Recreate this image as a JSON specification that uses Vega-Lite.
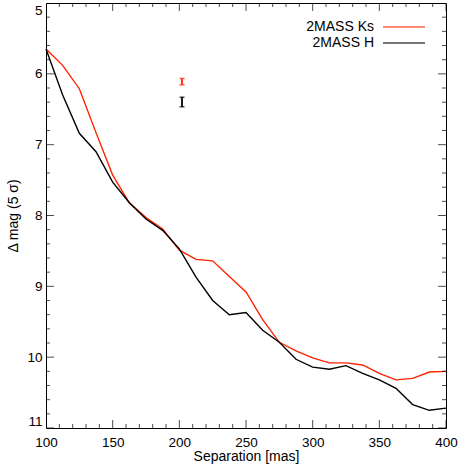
{
  "$schema": "https://vega.github.io/schema/vega-lite/v6.json",
  "width": 400,
  "height": 425,
  "autosize": {"type": "none"},
  "padding": {"left": 46, "top": 3, "right": 12, "bottom": 39},
  "background": "white",
  "config": {
    "view": {"stroke": "black", "strokeWidth": 1},
    "font": "Liberation Sans",
    "axis": {
      "domain": false,
      "ticks": false,
      "grid": false,
      "labelFont": "Liberation Sans",
      "titleFont": "Liberation Sans",
      "labelFontSize": 13.5,
      "titleFontSize": 14,
      "titleFontWeight": "normal",
      "labelColor": "black",
      "titleColor": "black"
    },
    "legend": {
      "labelFont": "Liberation Sans",
      "labelFontSize": 14,
      "labelColor": "black",
      "padding": 0
    }
  },
  "datasets": {
    "curves": [
      {"series": "2MASS Ks", "sep": 100, "mag": 5.65},
      {"series": "2MASS Ks", "sep": 112.5, "mag": 5.88},
      {"series": "2MASS Ks", "sep": 125, "mag": 6.21},
      {"series": "2MASS Ks", "sep": 137.5, "mag": 6.83},
      {"series": "2MASS Ks", "sep": 150, "mag": 7.43},
      {"series": "2MASS Ks", "sep": 162.5, "mag": 7.82},
      {"series": "2MASS Ks", "sep": 175, "mag": 8.03},
      {"series": "2MASS Ks", "sep": 187.5, "mag": 8.19},
      {"series": "2MASS Ks", "sep": 200, "mag": 8.49},
      {"series": "2MASS Ks", "sep": 212.5, "mag": 8.62},
      {"series": "2MASS Ks", "sep": 225, "mag": 8.64},
      {"series": "2MASS Ks", "sep": 237.5, "mag": 8.86},
      {"series": "2MASS Ks", "sep": 250, "mag": 9.08},
      {"series": "2MASS Ks", "sep": 262.5, "mag": 9.47},
      {"series": "2MASS Ks", "sep": 275, "mag": 9.79},
      {"series": "2MASS Ks", "sep": 287.5, "mag": 9.91},
      {"series": "2MASS Ks", "sep": 300, "mag": 10.01},
      {"series": "2MASS Ks", "sep": 312.5, "mag": 10.08},
      {"series": "2MASS Ks", "sep": 325, "mag": 10.08},
      {"series": "2MASS Ks", "sep": 337.5, "mag": 10.11},
      {"series": "2MASS Ks", "sep": 350, "mag": 10.23},
      {"series": "2MASS Ks", "sep": 362.5, "mag": 10.32},
      {"series": "2MASS Ks", "sep": 375, "mag": 10.3},
      {"series": "2MASS Ks", "sep": 387.5, "mag": 10.21},
      {"series": "2MASS Ks", "sep": 400, "mag": 10.2},
      {"series": "2MASS H", "sep": 100, "mag": 5.65},
      {"series": "2MASS H", "sep": 112.5, "mag": 6.3},
      {"series": "2MASS H", "sep": 125, "mag": 6.84},
      {"series": "2MASS H", "sep": 137.5, "mag": 7.1},
      {"series": "2MASS H", "sep": 150, "mag": 7.53},
      {"series": "2MASS H", "sep": 162.5, "mag": 7.82},
      {"series": "2MASS H", "sep": 175, "mag": 8.05},
      {"series": "2MASS H", "sep": 187.5, "mag": 8.21},
      {"series": "2MASS H", "sep": 200, "mag": 8.47},
      {"series": "2MASS H", "sep": 212.5, "mag": 8.87},
      {"series": "2MASS H", "sep": 225, "mag": 9.2},
      {"series": "2MASS H", "sep": 237.5, "mag": 9.4},
      {"series": "2MASS H", "sep": 250, "mag": 9.37},
      {"series": "2MASS H", "sep": 262.5, "mag": 9.62},
      {"series": "2MASS H", "sep": 275, "mag": 9.79},
      {"series": "2MASS H", "sep": 287.5, "mag": 10.03},
      {"series": "2MASS H", "sep": 300, "mag": 10.14},
      {"series": "2MASS H", "sep": 312.5, "mag": 10.17},
      {"series": "2MASS H", "sep": 325, "mag": 10.12},
      {"series": "2MASS H", "sep": 337.5, "mag": 10.23},
      {"series": "2MASS H", "sep": 350, "mag": 10.32},
      {"series": "2MASS H", "sep": 362.5, "mag": 10.44},
      {"series": "2MASS H", "sep": 375, "mag": 10.67},
      {"series": "2MASS H", "sep": 387.5, "mag": 10.75},
      {"series": "2MASS H", "sep": 400, "mag": 10.72}
    ],
    "bars": [
      {"series": "2MASS Ks", "sep": 202, "lo": 6.065, "hi": 6.155},
      {"series": "2MASS H", "sep": 202, "lo": 6.33, "hi": 6.465}
    ],
    "xticks": [
      {"v": 100, "kind": "major"}, {"v": 110, "kind": "minor"}, {"v": 120, "kind": "minor"}, {"v": 130, "kind": "minor"}, {"v": 140, "kind": "minor"},
      {"v": 150, "kind": "major"}, {"v": 160, "kind": "minor"}, {"v": 170, "kind": "minor"}, {"v": 180, "kind": "minor"}, {"v": 190, "kind": "minor"},
      {"v": 200, "kind": "major"}, {"v": 210, "kind": "minor"}, {"v": 220, "kind": "minor"}, {"v": 230, "kind": "minor"}, {"v": 240, "kind": "minor"},
      {"v": 250, "kind": "major"}, {"v": 260, "kind": "minor"}, {"v": 270, "kind": "minor"}, {"v": 280, "kind": "minor"}, {"v": 290, "kind": "minor"},
      {"v": 300, "kind": "major"}, {"v": 310, "kind": "minor"}, {"v": 320, "kind": "minor"}, {"v": 330, "kind": "minor"}, {"v": 340, "kind": "minor"},
      {"v": 350, "kind": "major"}, {"v": 360, "kind": "minor"}, {"v": 370, "kind": "minor"}, {"v": 380, "kind": "minor"}, {"v": 390, "kind": "minor"},
      {"v": 400, "kind": "major"}
    ],
    "yticks": [
      {"v": 5, "kind": "major"}, {"v": 5.2, "kind": "minor"}, {"v": 5.4, "kind": "minor"}, {"v": 5.6, "kind": "minor"}, {"v": 5.8, "kind": "minor"},
      {"v": 6, "kind": "major"}, {"v": 6.2, "kind": "minor"}, {"v": 6.4, "kind": "minor"}, {"v": 6.6, "kind": "minor"}, {"v": 6.8, "kind": "minor"},
      {"v": 7, "kind": "major"}, {"v": 7.2, "kind": "minor"}, {"v": 7.4, "kind": "minor"}, {"v": 7.6, "kind": "minor"}, {"v": 7.8, "kind": "minor"},
      {"v": 8, "kind": "major"}, {"v": 8.2, "kind": "minor"}, {"v": 8.4, "kind": "minor"}, {"v": 8.6, "kind": "minor"}, {"v": 8.8, "kind": "minor"},
      {"v": 9, "kind": "major"}, {"v": 9.2, "kind": "minor"}, {"v": 9.4, "kind": "minor"}, {"v": 9.6, "kind": "minor"}, {"v": 9.8, "kind": "minor"},
      {"v": 10, "kind": "major"}, {"v": 10.2, "kind": "minor"}, {"v": 10.4, "kind": "minor"}, {"v": 10.6, "kind": "minor"}, {"v": 10.8, "kind": "minor"},
      {"v": 11, "kind": "major"}
    ]
  },
  "layer": [
    {
      "data": {"name": "curves"},
      "mark": {"type": "line", "strokeWidth": 1.4},
      "encoding": {
        "x": {
          "field": "sep", "type": "quantitative",
          "scale": {"domain": [100, 400], "nice": false, "zero": false},
          "axis": {"orient": "bottom", "values": [100, 150, 200, 250, 300, 350, 400], "format": "d", "labelPadding": 7, "title": "Separation [mas]", "titlePadding": 1, "labelFlush": false}
        },
        "y": {
          "field": "mag", "type": "quantitative",
          "scale": {"domain": [5, 11], "reverse": true, "nice": false, "zero": false},
          "axis": {"orient": "left", "values": [5, 6, 7, 8, 9, 10, 11], "format": "d", "labelPadding": 4, "title": "Δ mag (5 σ)", "titlePadding": 6, "labelFlush": true}
        },
        "color": {
          "field": "series", "type": "nominal",
          "scale": {"domain": ["2MASS Ks", "2MASS H"], "range": ["#ff2200", "#000000"]},
          "legend": {"title": null, "orient": "none", "legendX": 350, "legendY": 16, "symbolType": "M-3,0H3", "symbolSize": 196, "symbolStrokeWidth": 1.4, "labelAlign": "right", "labelOffset": -38, "rowPadding": 1}
        },
        "order": {"field": "sep", "type": "quantitative"}
      }
    },
    {
      "data": {"name": "xticks"},
      "transform": [{"filter": "datum.kind === 'major'"}],
      "mark": {"type": "tick", "orient": "vertical", "clip": true, "size": 16, "thickness": 1, "color": "black"},
      "encoding": {
        "x": {"field": "v", "type": "quantitative", "scale": {"domain": [100, 400], "nice": false, "zero": false}},
        "y": {"datum": 11, "type": "quantitative", "scale": {"domain": [5, 11], "reverse": true, "nice": false, "zero": false}}
      }
    },
    {
      "data": {"name": "xticks"},
      "transform": [{"filter": "datum.kind === 'minor'"}],
      "mark": {"type": "tick", "orient": "vertical", "clip": true, "size": 8, "thickness": 1, "color": "black"},
      "encoding": {
        "x": {"field": "v", "type": "quantitative", "scale": {"domain": [100, 400], "nice": false, "zero": false}},
        "y": {"datum": 11, "type": "quantitative", "scale": {"domain": [5, 11], "reverse": true, "nice": false, "zero": false}}
      }
    },
    {
      "data": {"name": "xticks"},
      "transform": [{"filter": "datum.kind === 'major'"}],
      "mark": {"type": "tick", "orient": "vertical", "clip": true, "size": 16, "thickness": 1, "color": "black"},
      "encoding": {
        "x": {"field": "v", "type": "quantitative", "scale": {"domain": [100, 400], "nice": false, "zero": false}},
        "y": {"datum": 5, "type": "quantitative", "scale": {"domain": [5, 11], "reverse": true, "nice": false, "zero": false}}
      }
    },
    {
      "data": {"name": "xticks"},
      "transform": [{"filter": "datum.kind === 'minor'"}],
      "mark": {"type": "tick", "orient": "vertical", "clip": true, "size": 8, "thickness": 1, "color": "black"},
      "encoding": {
        "x": {"field": "v", "type": "quantitative", "scale": {"domain": [100, 400], "nice": false, "zero": false}},
        "y": {"datum": 5, "type": "quantitative", "scale": {"domain": [5, 11], "reverse": true, "nice": false, "zero": false}}
      }
    },
    {
      "data": {"name": "yticks"},
      "transform": [{"filter": "datum.kind === 'major'"}],
      "mark": {"type": "tick", "orient": "horizontal", "clip": true, "size": 16, "thickness": 1, "color": "black"},
      "encoding": {
        "y": {"field": "v", "type": "quantitative", "scale": {"domain": [5, 11], "reverse": true, "nice": false, "zero": false}},
        "x": {"datum": 100, "type": "quantitative", "scale": {"domain": [100, 400], "nice": false, "zero": false}}
      }
    },
    {
      "data": {"name": "yticks"},
      "transform": [{"filter": "datum.kind === 'minor'"}],
      "mark": {"type": "tick", "orient": "horizontal", "clip": true, "size": 8, "thickness": 1, "color": "black"},
      "encoding": {
        "y": {"field": "v", "type": "quantitative", "scale": {"domain": [5, 11], "reverse": true, "nice": false, "zero": false}},
        "x": {"datum": 100, "type": "quantitative", "scale": {"domain": [100, 400], "nice": false, "zero": false}}
      }
    },
    {
      "data": {"name": "yticks"},
      "transform": [{"filter": "datum.kind === 'major'"}],
      "mark": {"type": "tick", "orient": "horizontal", "clip": true, "size": 16, "thickness": 1, "color": "black"},
      "encoding": {
        "y": {"field": "v", "type": "quantitative", "scale": {"domain": [5, 11], "reverse": true, "nice": false, "zero": false}},
        "x": {"datum": 400, "type": "quantitative", "scale": {"domain": [100, 400], "nice": false, "zero": false}}
      }
    },
    {
      "data": {"name": "yticks"},
      "transform": [{"filter": "datum.kind === 'minor'"}],
      "mark": {"type": "tick", "orient": "horizontal", "clip": true, "size": 8, "thickness": 1, "color": "black"},
      "encoding": {
        "y": {"field": "v", "type": "quantitative", "scale": {"domain": [5, 11], "reverse": true, "nice": false, "zero": false}},
        "x": {"datum": 400, "type": "quantitative", "scale": {"domain": [100, 400], "nice": false, "zero": false}}
      }
    },
    {
      "data": {"name": "bars"},
      "mark": {"type": "rule", "strokeWidth": 1.8},
      "encoding": {
        "x": {"field": "sep", "type": "quantitative"},
        "y": {"field": "lo", "type": "quantitative"},
        "y2": {"field": "hi"},
        "color": {"field": "series", "type": "nominal"}
      }
    },
    {
      "data": {"name": "bars"},
      "mark": {"type": "tick", "orient": "horizontal", "size": 5, "thickness": 1.5},
      "encoding": {
        "x": {"field": "sep", "type": "quantitative"},
        "y": {"field": "lo", "type": "quantitative"},
        "color": {"field": "series", "type": "nominal"}
      }
    },
    {
      "data": {"name": "bars"},
      "mark": {"type": "tick", "orient": "horizontal", "size": 5, "thickness": 1.5},
      "encoding": {
        "x": {"field": "sep", "type": "quantitative"},
        "y": {"field": "hi", "type": "quantitative"},
        "color": {"field": "series", "type": "nominal"}
      }
    }
  ]
}
